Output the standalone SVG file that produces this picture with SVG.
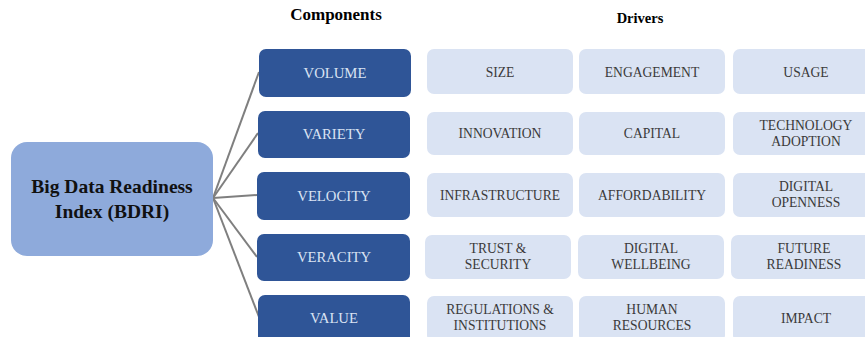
<svg xmlns="http://www.w3.org/2000/svg" width="865" height="337" viewBox="0 0 865 337">
<style>
.hdr{font-family:"Liberation Serif","Times New Roman",serif;font-weight:bold;fill:#000;text-anchor:middle}
.main{fill:#8eaadb}
.mt{font-family:"Liberation Serif","Times New Roman",serif;font-weight:bold;font-size:19.5px;fill:#111;text-anchor:middle}
.comp{fill:#2f5597}
.ct{font-family:"Liberation Serif","Times New Roman",serif;font-size:14.7px;fill:#dae3f3;text-anchor:middle}
.drv{fill:#dae3f3}
.dt{font-family:"Liberation Serif","Times New Roman",serif;font-size:13.6px;fill:#3a3a3a;text-anchor:middle}
.con{stroke:#7f7f7f;stroke-width:2;fill:none}
</style>
<rect width="865" height="337" fill="#fff"/>
<text class="hdr" x="336" y="20" font-size="17">Components</text>
<text class="hdr" x="640" y="23" font-size="14.5">Drivers</text>
<g id="connectors">
<line class="con" x1="213" y1="198" x2="259" y2="72"/>
<line class="con" x1="213" y1="198" x2="258" y2="133"/>
<line class="con" x1="213" y1="198" x2="257" y2="195"/>
<line class="con" x1="213" y1="198" x2="257" y2="257"/>
<line class="con" x1="213" y1="198" x2="259" y2="317"/>
</g>
<g id="bdri">
<rect class="main" x="11" y="142" width="202" height="114" rx="16"/>
<text class="mt" x="112" y="193">Big Data Readiness</text>
<text class="mt" x="112" y="218">Index (BDRI)</text>
</g>
<g id="volume"><rect class="comp" x="259" y="49" width="152" height="48" rx="7"/><text class="ct" x="335" y="78">VOLUME</text></g>
<g id="variety"><rect class="comp" x="258" y="111" width="152" height="47" rx="7"/><text class="ct" x="334" y="139">VARIETY</text></g>
<g id="velocity"><rect class="comp" x="257" y="172" width="153" height="48" rx="7"/><text class="ct" x="334" y="201">VELOCITY</text></g>
<g id="veracity"><rect class="comp" x="257" y="234" width="153" height="47" rx="7"/><text class="ct" x="334" y="262">VERACITY</text></g>
<g id="value"><rect class="comp" x="258" y="295" width="152" height="48" rx="7"/><text class="ct" x="334" y="323">VALUE</text></g>

<g id="size"><rect class="drv" x="427" y="49" width="146" height="45" rx="7"/><text class="dt" x="500" y="77">SIZE</text></g>
<g id="engagement"><rect class="drv" x="579" y="49" width="146" height="45" rx="7"/><text class="dt" x="652" y="77">ENGAGEMENT</text></g>
<g id="usage"><rect class="drv" x="733" y="49" width="140" height="45" rx="7"/><text class="dt" x="806" y="77">USAGE</text></g>

<g id="innovation"><rect class="drv" x="427" y="112" width="146" height="43" rx="7"/><text class="dt" x="500" y="138">INNOVATION</text></g>
<g id="capital"><rect class="drv" x="579" y="112" width="146" height="43" rx="7"/><text class="dt" x="652" y="138">CAPITAL</text></g>
<g id="techadoption"><rect class="drv" x="733" y="112" width="140" height="43" rx="7"/><text class="dt" x="806" y="130">TECHNOLOGY</text><text class="dt" x="806" y="146">ADOPTION</text></g>

<g id="infrastructure"><rect class="drv" x="427" y="173" width="146" height="44" rx="7"/><text class="dt" x="500" y="200">INFRASTRUCTURE</text></g>
<g id="affordability"><rect class="drv" x="579" y="173" width="146" height="44" rx="7"/><text class="dt" x="652" y="200">AFFORDABILITY</text></g>
<g id="digitalopenness"><rect class="drv" x="733" y="173" width="140" height="44" rx="7"/><text class="dt" x="806" y="191">DIGITAL</text><text class="dt" x="806" y="207">OPENNESS</text></g>

<g id="trust"><rect class="drv" x="425" y="235" width="146" height="44" rx="7"/><text class="dt" x="498" y="253">TRUST &amp;</text><text class="dt" x="498" y="269">SECURITY</text></g>
<g id="wellbeing"><rect class="drv" x="578" y="235" width="146" height="44" rx="7"/><text class="dt" x="651" y="253">DIGITAL</text><text class="dt" x="651" y="269">WELLBEING</text></g>
<g id="futurereadiness"><rect class="drv" x="731" y="235" width="142" height="44" rx="7"/><text class="dt" x="804" y="253">FUTURE</text><text class="dt" x="804" y="269">READINESS</text></g>

<g id="regulations"><rect class="drv" x="427" y="296" width="146" height="46" rx="7"/><text class="dt" x="500" y="314">REGULATIONS &amp;</text><text class="dt" x="500" y="330">INSTITUTIONS</text></g>
<g id="humanresources"><rect class="drv" x="579" y="296" width="146" height="46" rx="7"/><text class="dt" x="652" y="314">HUMAN</text><text class="dt" x="652" y="330">RESOURCES</text></g>
<g id="impact"><rect class="drv" x="733" y="296" width="140" height="46" rx="7"/><text class="dt" x="806" y="323">IMPACT</text></g>
</svg>
